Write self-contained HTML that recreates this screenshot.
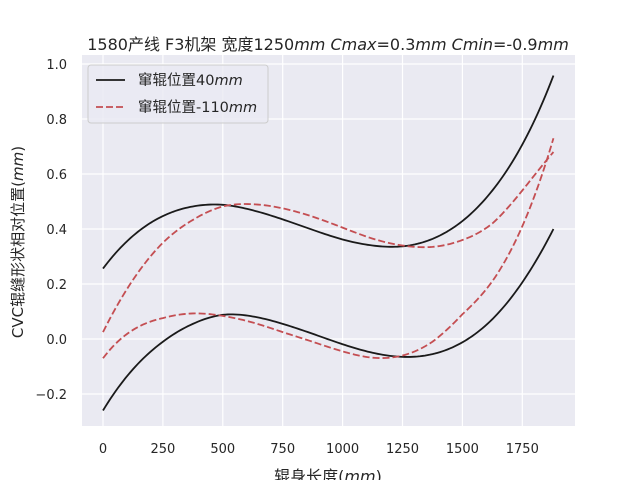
<!DOCTYPE html>
<html><head><meta charset="utf-8">
<style>
body{margin:0;background:#fff;}
svg{display:block;font-family:"DejaVu Sans","Liberation Sans","Noto Sans CJK SC",sans-serif;}
</style></head>
<body>
<svg id="chart" width="640" height="480" viewBox="0 0 640 480">
<rect x="82" y="55" width="493" height="371" fill="#eaeaf2"/>
<g id="grid"></g>
<g id="series"></g>
<g id="ticks"></g>
<text x="328" y="50" text-anchor="middle" font-size="16" fill="#262626">1580产线 F3机架 宽度1250<tspan font-style="italic">mm</tspan> <tspan font-style="italic">Cmax</tspan>=0.3<tspan font-style="italic">mm</tspan> <tspan font-style="italic">Cmin</tspan>=-0.9<tspan font-style="italic">mm</tspan></text>
<text x="328" y="482" text-anchor="middle" font-size="16" fill="#262626">辊身长度(<tspan font-style="italic">mm</tspan>)</text>
<text transform="translate(23,242) rotate(-90)" text-anchor="middle" font-size="15" fill="#262626">CVC辊缝形状相对位置(<tspan font-style="italic">mm</tspan>)</text>
<g>
<rect x="88" y="65" width="180" height="58" rx="3" fill="#eaeaf2" fill-opacity="0.8" stroke="#cccccc"/>
<g>
<line x1="96" y1="80" x2="125" y2="80" stroke="#1a1a1a" stroke-width="1.8"/>
<text x="138" y="85" font-size="14.5" fill="#262626">窜辊位置40<tspan font-style="italic">mm</tspan></text></g>
<g>
<line x1="96" y1="107" x2="125" y2="107" stroke="#c44e52" stroke-width="1.8" stroke-dasharray="7,3"/>
<text x="138" y="112" font-size="14.5" fill="#262626">窜辊位置-110<tspan font-style="italic">mm</tspan></text></g>
</g>
</svg>
<script>
const xs=[0,125,250,375,500,625,750,875,1000,1125,1250,1375,1500,1625,1750,1880];
const black40Upper=[0.256,0.375,0.447,0.482,0.488,0.468,0.435,0.397,0.362,0.340,0.337,0.364,0.429,0.54,0.707,0.958];
const black40Lower=[-0.26,-0.11,-0.01,0.055,0.088,0.082,0.055,0.019,-0.019,-0.05,-0.065,-0.055,-0.012,0.072,0.206,0.40];
const red110Upper=[0.025,0.215,0.35,0.433,0.482,0.49,0.475,0.445,0.405,0.365,0.34,0.335,0.36,0.42,0.54,0.68];
const red110Lower=[-0.07,0.033,0.076,0.093,0.084,0.06,0.025,-0.01,-0.045,-0.068,-0.06,-0.01,0.09,0.21,0.41,0.73];
const xTicks=[0,250,500,750,1000,1250,1500,1750];
const yTicks=[-0.2,0,0.2,0.4,0.6,0.8,1.0];
const yTickLabels=["−0.2","0.0","0.2","0.4","0.6","0.8","1.0"];
const X=v=>103+v*0.2396;
const Y=v=>339-v*275;
const NS="http://www.w3.org/2000/svg";
const grid=document.getElementById('grid'),ticks=document.getElementById('ticks'),ser=document.getElementById('series');
function mk(t,a){const e=document.createElementNS(NS,t);for(const k in a)e.setAttribute(k,a[k]);return e;}
xTicks.forEach(t=>{
 const l=mk('line',{x1:X(t),x2:X(t),y1:55,y2:426,stroke:'#fff','stroke-width':1.2});
 
 
 grid.appendChild(l);
 const tx=mk('text',{x:X(t),y:453,'text-anchor':'middle','font-size':13,fill:'#262626'});
 tx.textContent=t;
 
 
 ticks.appendChild(tx);
});
yTicks.forEach((t,i)=>{
 const l=mk('line',{x1:82,x2:575,y1:Y(t),y2:Y(t),stroke:'#fff','stroke-width':1.2});
 
 
 grid.appendChild(l);
 const tx=mk('text',{x:67,y:Y(t)+5,'text-anchor':'end','font-size':13,fill:'#262626'});
 tx.textContent=yTickLabels[i];
 
 
 ticks.appendChild(tx);
});
function pathD(vals){
 const n=xs.length;let d='';
 for(let i=0;i<n-1;i++){
  let s=Math.min(Math.max(i-1,0),n-4);
  const idx=[s,s+1,s+2,s+3];
  const steps=12;
  for(let k=(i===0?0:1);k<=steps;k++){
   const x=xs[i]+(xs[i+1]-xs[i])*k/steps;
   let y=0;
   idx.forEach(a=>{let w=1;idx.forEach(b=>{if(a!==b)w*=(x-xs[b])/(xs[a]-xs[b]);});y+=w*vals[a];});
   d+=(d?' L':'M')+X(x).toFixed(2)+','+Y(y).toFixed(2);
  }
 }
 return d;
}
[[black40Upper,'#1a1a1a',null,'line-40-upper'],[black40Lower,'#1a1a1a',null,'line-40-lower'],
 [red110Upper,'#c44e52','7,3','line-minus110-upper'],[red110Lower,'#c44e52','7,3','line-minus110-lower']].forEach(s=>{
 const a={d:pathD(s[0]),fill:'none',stroke:s[1],'stroke-width':1.8,'stroke-linejoin':'round'};
 if(s[2])a['stroke-dasharray']=s[2];
 const p=mk('path',a);
 
 
 ser.appendChild(p);
});
</script>
</body></html>
